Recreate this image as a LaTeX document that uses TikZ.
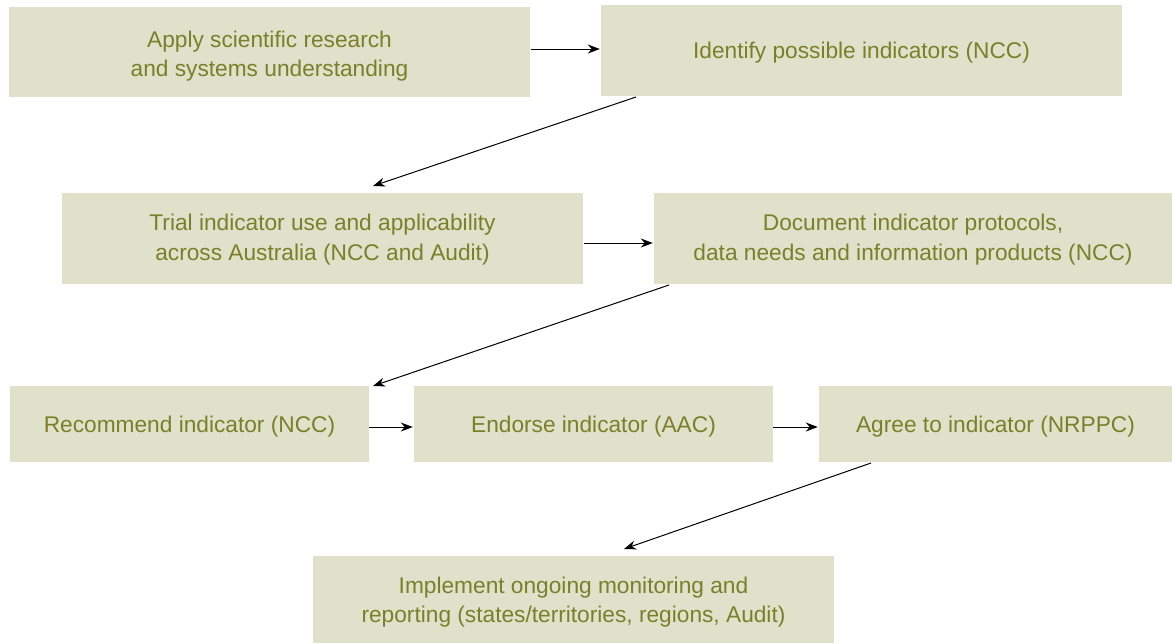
\documentclass[tikz,border=0pt]{standalone}
\usepackage{fontspec}
\setmainfont{Liberation Sans}
\usetikzlibrary{arrows.meta}
\definecolor{boxfill}{RGB}{224,225,203}
\definecolor{txt}{RGB}{122,128,40}
\begin{document}
\begin{tikzpicture}[x=1pt,y=-1pt,
  box/.style={fill=boxfill,draw=none,inner sep=0pt},
  lbl/.style={text=txt,align=center,font=\fontsize{22.7}{29.5}\selectfont,inner sep=0pt},
  arr/.style={-{Stealth[length=12pt,width=9pt]},line width=1pt}]
\useasboundingbox (0,0) rectangle (1172,643);
\node[box,minimum width=521,minimum height=90] (a) at (269.5,52) {};
\node[box,minimum width=521,minimum height=91] (b) at (861.5,50.5) {};
\node[box,minimum width=521,minimum height=91] (c) at (322.5,238.5) {};
\node[box,minimum width=518,minimum height=91] (d) at (913,238.5) {};
\node[box,minimum width=359,minimum height=76] (e) at (189.5,424) {};
\node[box,minimum width=359,minimum height=76] (f) at (593.5,424) {};
\node[box,minimum width=353,minimum height=76] (g) at (995.5,424) {};
\node[box,minimum width=521,minimum height=87] (h) at (573.5,599.5) {};
\node[lbl] (ta) at ([yshift=-4pt]a.center) {Apply scientific research\\and systems understanding};
\node[lbl] (tb) at ([yshift=-2.5pt]b.center) {Identify possible indicators (NCC)};
\node[lbl] (tc) at ([yshift=-1pt]c.center) {Trial indicator use and applicability\\across Australia (NCC and Audit)};
\node[lbl] (td) at ([yshift=-1pt]d.center) {Document indicator protocols,\\data needs and information products (NCC)};
\node[lbl] (te) at ([yshift=-2.5pt]e.center) {Recommend indicator (NCC)};
\node[lbl] (tf) at ([yshift=-2.5pt]f.center) {Endorse indicator (AAC)};
\node[lbl] (tg) at ([yshift=-2.5pt]g.center) {Agree to indicator (NRPPC)};
\node[lbl] (th) at ([yshift=-2.5pt]h.center) {Implement ongoing monitoring and\\reporting (states/territories, regions, Audit)};
\coordinate (c1) at (373,186);
\coordinate (c2) at (373,386);
\coordinate (c3) at (624,549);
\draw[arr] (a.east |- 0,49) ++(1,0) -- ([xshift=-1pt]b.west |- 0,49);
\draw[arr] (636,97) -- (c1);
\draw[arr] ([xshift=1pt]c.east |- 0,243) -- ([xshift=-1pt]d.west |- 0,243);
\draw[arr] (669,285) -- (c2);
\draw[arr] (e.east |- 0,427) -- ([xshift=-1pt]f.west |- 0,427);
\draw[arr] (f.east |- 0,427) -- ([xshift=-1pt]g.west |- 0,427);
\draw[arr] (871,463) -- (c3);
\end{tikzpicture}
\end{document}
